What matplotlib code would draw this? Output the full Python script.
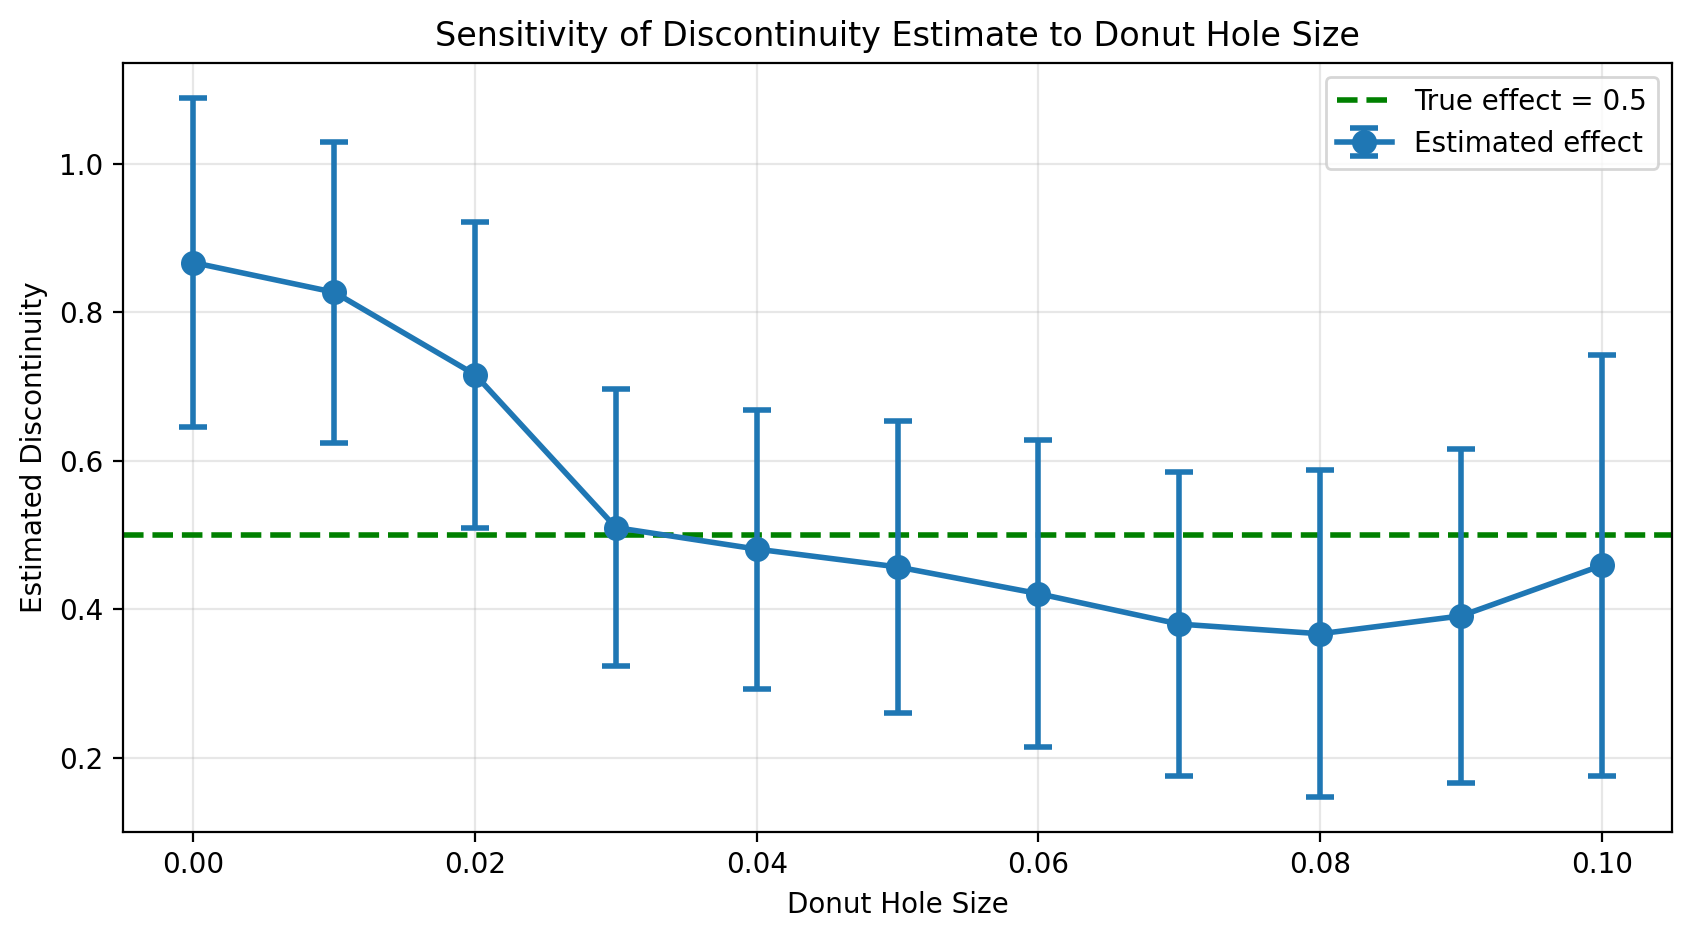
import matplotlib

matplotlib.use("Agg")
import matplotlib.pyplot as plt
import numpy as np

# Donut hole sizes and the estimated discontinuity at each
hole_sizes = [0.00, 0.01, 0.02, 0.03, 0.04, 0.05, 0.06, 0.07, 0.08, 0.09, 0.10]
estimates = [0.867, 0.827, 0.716, 0.510, 0.481, 0.457, 0.421, 0.380, 0.367, 0.391, 0.459]
std_errors = [0.222, 0.203, 0.206, 0.187, 0.188, 0.197, 0.207, 0.205, 0.220, 0.225, 0.284]
TRUE_EFFECT = 0.5

DPI = 200
fig = plt.figure(figsize=(1693 / DPI, 938 / DPI), dpi=DPI)
ax = fig.add_axes([0.0727, 0.113, 0.915, 0.82])

ax.axhline(TRUE_EFFECT, color="green", ls="--", lw=2, label=f"True effect = {TRUE_EFFECT}")
ax.errorbar(
    hole_sizes,
    estimates,
    yerr=std_errors,
    fmt="o-",
    color="tab:blue",
    lw=2,
    markersize=8,
    capsize=5,
    capthick=2,
    elinewidth=2,
    label="Estimated effect",
)

ax.set_xlabel("Donut Hole Size")
ax.set_ylabel("Estimated Discontinuity")
ax.set_title("Sensitivity of Discontinuity Estimate to Donut Hole Size")
ax.grid(True, alpha=0.3)
ax.legend(loc="upper right")

fig.savefig("out.png", dpi=DPI)
